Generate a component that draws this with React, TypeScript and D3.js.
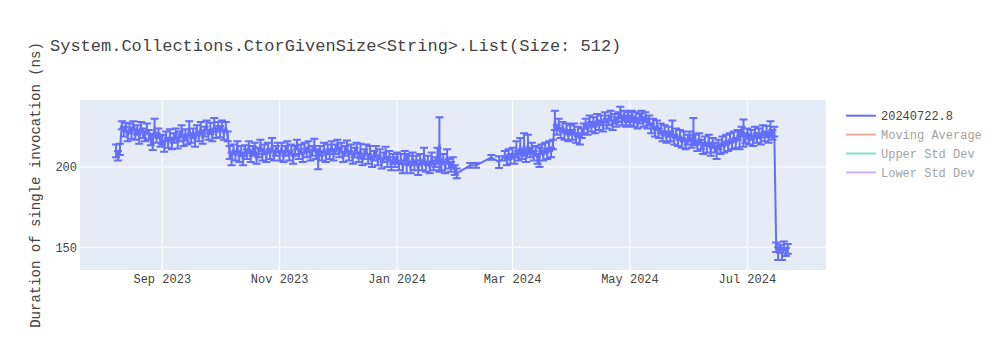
import React from 'react';
import * as d3 from 'd3';

const chartTitle = "System.Collections.CtorGivenSize<String>.List(Size: 512)";
const yAxisTitle = "Duration of single invocation (ns)";

// one entry per calendar day; null = no run that day
const monthKeys = ["2023-08", "2023-09", "2023-10", "2023-11", "2023-12", "2024-01", "2024-02", "2024-03", "2024-04", "2024-05", "2024-06", "2024-07"];
const N = null;

const durAug2023 = [N, N, N, N, N, N, N, 210, 207, 211, 226, 222, 225, 219, 224, 221, 226, 220, 223, 218, 225, 221, 219, 224, 220, 217, 215, 225, 218, 221, 216];
const durSep2023 = [217, 213, 219, 215, 220, 214, 218, 221, 215, 219, 223, 216, 220, 217, 224, 218, 221, 216, 223, 219, 225, 218, 222, 226, 220, 224, 219, 227, 221, 225];
const durOct2023 = [222, 226, 220, 225, 219, 209, 205, 211, 207, 213, 206, 210, 204, 211, 208, 213, 206, 210, 212, 205, 209, 214, 207, 211, 206, 212, 208, 214, 207, 210, 212];
const durNov2023 = [207, 212, 206, 210, 213, 207, 211, 205, 210, 214, 208, 211, 206, 212, 209, 213, 207, 210, 214, 208, 204, 210, 207, 212, 206, 211, 208, 213, 207, 211];
const durDec2023 = [214, 209, 212, 206, 210, 213, 207, 211, 205, 209, 212, 206, 210, 204, 208, 211, 205, 209, 203, 207, 210, 204, 208, 202, 206, 209, 203, 207, 201, 205, 203];
const durJan2024 = [206, 201, 205, 199, 207, 202, 204, 199, 206, 201, 204, 198, 205, 201, 207, 200, 204, 199, 206, 201, 203, 207, 214, 201, 205, 199, 207, 202, 200, 203, 198];
const durFeb2024 = [196, N, N, N, N, N, N, 201, N, N, 201, N, N, N, N, N, N, N, 206, N, N, N, 203, N, N, 207, 204, 208, 205];
const durMar2024 = [209, 205, 211, 207, 213, 208, 214, 206, 214, 209, 212, 207, 210, 205, 206, 211, 207, 212, 208, 213, 209, 214, 229, 223, 227, 221, 225, 220, 224, 219, 223];
const durApr2024 = [220, 224, 218, 222, 217, 221, 224, 227, 223, 229, 225, 228, 224, 230, 226, 229, 225, 231, 227, 229, 232, 226, 230, 228, 231, 234, 229, 232, 228, 231];
const durMay2024 = [229, 232, 228, 231, 227, 230, 232, 228, 231, 227, 229, 224, 227, 222, 226, 221, 224, 219, 223, 218, 222, 219, 224, 217, 221, 216, 220, 215, 219, 214, 217];
const durJun2024 = [219, 215, 222, 217, 213, 218, 214, 211, 216, 212, 217, 210, 215, 212, 209, 214, 211, 216, 212, 217, 213, 218, 214, 219, 215, 220, 217, 222, 221, 218];
const durJul2024 = [221, 217, 220, 216, 222, 218, 221, 217, 223, 219, 222, 218, 224, 220, 222, 150, 146, 149, 145, 151, 147, 149, N, N, N, N, N, N, N, N, N];

const sdAug2023 = [N, N, N, N, N, N, N, 4, 3, 3.5, 2.5, 3, 2.5, 3, 3, 3.5, 2.5, 3, 3, 3.5, 3, 3, 3, 3, 3, 3.5, 4.5, 5, 3, 3, 3.5];
const sdSep2023 = [3, 3.5, 3, 3, 3.5, 3, 3, 3, 3.5, 3, 3, 3, 3.5, 3, 4.5, 3, 3, 3.5, 3, 3, 3, 3.5, 3, 3, 3, 3.5, 3, 3.5, 3, 3];
const sdOct2023 = [3.5, 3, 3, 3, 3, 4, 4, 3, 3, 3, 3, 3, 3, 2.5, 3, 3, 3, 3, 3, 3, 3, 3, 3, 3, 3, 3, 3, 4, 3, 3, 3];
const sdNov2023 = [3, 3, 3, 3, 3, 3, 3, 3, 3, 3, 3, 3, 3, 3, 3, 3, 3, 3, 3.5, 3, 5.5, 3, 3, 3, 3, 3, 3, 3, 3, 3];
const sdDec2023 = [3, 3, 3, 3, 3, 3.5, 3, 3, 3, 3, 3, 3, 4.5, 3, 3, 3, 3, 4, 3, 3, 3, 3, 3, 3, 3, 3.5, 3, 3, 3, 3, 3];
const sdJan2024 = [3, 3, 3, 3, 3, 6, 3, 3, 3, 3, 3, 3, 3, 3, 5, 3, 3, 3, 3, 3, 3, 5, 17, 3, 3, 3, 4, 3, 3, 3, 3];
const sdFeb2024 = [3, N, N, N, N, N, N, 1.5, N, N, 1.5, N, N, N, N, N, N, N, 1.5, N, N, N, 3.7, N, N, 3, 3, 3, 3];
const sdMar2024 = [3, 3, 5, 3, 5, 3, 7, 3, 6, 3, 3, 3, 3, 3, 6, 3, 3, 3, 3, 3, 3, 3, 6, 3, 3, 3, 3, 3, 3, 3, 3];
const sdApr2024 = [3, 3, 3, 3, 3, 3, 3, 3, 3, 3, 3, 3, 3, 3, 3, 3, 3, 3, 3, 3, 3, 3, 3, 3, 3, 3.5, 3, 3, 3, 3];
const sdMay2024 = [3, 3, 3, 3, 3, 3, 3, 3, 3, 3, 3, 3, 3, 3, 3, 3, 3, 3, 3, 3, 3, 3, 5, 3, 3, 3, 3, 3, 3, 3, 3];
const sdJun2024 = [3, 3, 8.5, 3, 3, 3, 3, 3, 3, 3, 3, 3, 3, 3, 4, 3, 3, 3, 3, 3, 3, 3, 3, 3, 3, 3, 6, 3, 8.5, 3];
const sdJul2024 = [3, 3, 3, 3, 3, 3, 3, 3, 3, 3, 3.5, 3, 4.5, 3, 3, 3, 4, 2.5, 3, 2.5, 2.5, 3, N, N, N, N, N, N, N, N, N];

const durationsByMonth = [durAug2023, durSep2023, durOct2023, durNov2023, durDec2023, durJan2024, durFeb2024, durMar2024, durApr2024, durMay2024, durJun2024, durJul2024];
const stdDevsByMonth = [sdAug2023, sdSep2023, sdOct2023, sdNov2023, sdDec2023, sdJan2024, sdFeb2024, sdMar2024, sdApr2024, sdMay2024, sdJun2024, sdJul2024];

const xTickDates = ["2023-09-01", "2023-11-01", "2024-01-01", "2024-03-01", "2024-05-01", "2024-07-01"];
const xTickLabels = ["Sep 2023", "Nov 2023", "Jan 2024", "Mar 2024", "May 2024", "Jul 2024"];
const yTicks = [150, 200];
const xDomain = ["2023-07-20T06:00:00Z", "2024-08-10T21:00:00Z"];
const yDomain = [135.8, 241.7];

const legendNames = ["20240722.8", "Moving Average", "Upper Std Dev", "Lower Std Dev"];
const legendColors = ["#636efa", "#EF553B", "#00cc96", "#ab63fa"];
const legendVisible = [true, false, false, false];

const FONT = "'Liberation Mono', 'Courier New', monospace";
const W = 1000, H = 350;
const M = { left: 80, right: 826, top: 100, bottom: 270 };

type Pt = { t: Date; v: number; e: number };

export default function App() {
  const x = d3.scaleUtc().domain(xDomain.map(d => new Date(d))).range([M.left, M.right]);
  const y = d3.scaleLinear().domain(yDomain).range([M.bottom, M.top]);
  const pts: Pt[] = [];
  monthKeys.forEach((mk, mi) => {
    durationsByMonth[mi].forEach((v, di) => {
      const e = stdDevsByMonth[mi][di];
      if (v == null || e == null) return;
      const day = String(di + 1).padStart(2, "0");
      pts.push({ t: new Date(`${mk}-${day}T00:00:00Z`), v, e });
    });
  });
  const line = d3.line<Pt>().x(p => x(p.t)).y(p => y(p.v));
  const errPath = pts.map(p => {
    const cx = x(p.t), y1 = y(p.v + p.e), y2 = y(p.v - p.e);
    return `M${cx},${y1}V${y2}M${cx - 4},${y1}H${cx + 4}M${cx - 4},${y2}H${cx + 4}`;
  }).join("");
  const color = "#636efa";
  return (
    <svg width={W} height={H} style={{ position: 'absolute', left: 0, top: 0, background: '#fff' }} fontFamily={FONT}>
      <rect x={0} y={0} width={W} height={H} fill="#fff" />
      <rect x={M.left} y={M.top} width={M.right - M.left} height={M.bottom - M.top} fill="#E5ECF6" />
      {xTickDates.map((d, i) => {
        const xx = x(new Date(d + "T00:00:00Z"));
        return <line key={"xg" + i} x1={xx} x2={xx} y1={M.top} y2={M.bottom} stroke="#fff" strokeWidth={1} />;
      })}
      {yTicks.map((t, i) => (
        <line key={"yg" + i} x1={M.left} x2={M.right} y1={y(t)} y2={y(t)} stroke="#fff" strokeWidth={1} />
      ))}
      <defs>
        <clipPath id="plotclip">
          <rect x={M.left} y={M.top} width={M.right - M.left} height={M.bottom - M.top} />
        </clipPath>
      </defs>
      <g clipPath="url(#plotclip)">
        <path d={errPath} stroke={color} strokeWidth={2} fill="none" />
        <path d={line(pts) || ""} stroke={color} strokeWidth={2} fill="none" strokeLinejoin="round" />
      </g>
      {xTickDates.map((d, i) => (
        <text key={"xt" + i} x={x(new Date(d + "T00:00:00Z"))} y={283} textAnchor="middle" fontSize={12} fill="#444">{xTickLabels[i]}</text>
      ))}
      {yTicks.map((t, i) => (
        <text key={"yt" + i} x={77} y={y(t) + 4.5} textAnchor="end" fontSize={12} fill="#444">{String(t)}</text>
      ))}
      <text transform={`translate(39.5,${(M.top + M.bottom) / 2}) rotate(-90)`} textAnchor="middle" fontSize={14} fill="#444">{yAxisTitle}</text>
      <text x={50} y={51} fontSize={17} fill="#444">{chartTitle}</text>
      {legendNames.map((n, i) => {
        const ly = 115.7 + i * 18.9;
        return (
          <g key={"lg" + i} opacity={legendVisible[i] ? 1 : 0.5}>
            <line x1={846} x2={876} y1={ly} y2={ly} stroke={legendColors[i]} strokeWidth={2} />
            <text x={881} y={ly + 4.5} fontSize={12} fill="#444">{n}</text>
          </g>
        );
      })}
    </svg>
  );
}
